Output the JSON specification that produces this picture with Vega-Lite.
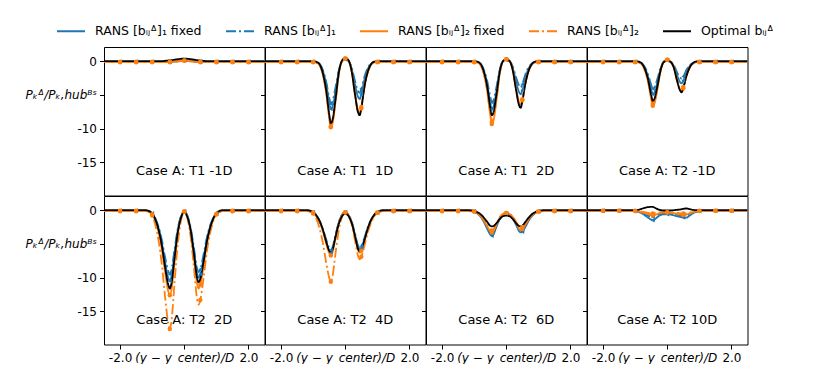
{
"$schema":"https://vega.github.io/schema/vega-lite/v6.json",
"autosize":{"type":"pad"},
"padding":{"left":24,"top":16,"right":0,"bottom":0},
"background":"white",
"data":{"values":[
{"p":1,"x":-2.5,"a":-0.1,"b":-0.1,"c":-0.1,"d":-0.15,"e":0},
{"p":1,"x":-2,"a":-0.1,"b":-0.1,"c":-0.1,"d":-0.15,"e":0},
{"p":1,"x":-1.5,"a":-0.1,"b":-0.1,"c":-0.1,"d":-0.15,"e":0},
{"p":1,"x":-1.2,"a":-0.1,"b":-0.1,"c":-0.1,"d":-0.15,"e":0},
{"p":1,"x":-1,"a":-0.1,"b":-0.1,"c":-0.1,"d":-0.15,"e":0},
{"p":1,"x":-0.9,"a":-0.1,"b":-0.1,"c":-0.1,"d":-0.15,"e":0},
{"p":1,"x":-0.8,"a":-0.1,"b":-0.1,"c":-0.1,"d":-0.15,"e":0},
{"p":1,"x":-0.7,"a":-0.1,"b":-0.1,"c":-0.1,"d":-0.15,"e":0},
{"p":1,"x":-0.6,"a":-0.1,"b":-0.1,"c":-0.1,"d":-0.15,"e":0.05},
{"p":1,"x":-0.5,"a":-0.1,"b":-0.1,"c":-0.1,"d":-0.15,"e":0.1},
{"p":1,"x":-0.45,"a":-0.1,"b":-0.1,"c":-0.1,"d":-0.15,"e":0.12},
{"p":1,"x":-0.4,"a":-0.08,"b":-0.08,"c":-0.08,"d":-0.13,"e":0.15},
{"p":1,"x":-0.3,"a":-0.05,"b":-0.05,"c":-0.05,"d":-0.1,"e":0.22},
{"p":1,"x":-0.2,"a":0,"b":0,"c":0,"d":-0.05,"e":0.3},
{"p":1,"x":-0.1,"a":0.05,"b":0.05,"c":0.05,"d":0,"e":0.35},
{"p":1,"x":0,"a":0.1,"b":0.1,"c":0.1,"d":0.05,"e":0.38},
{"p":1,"x":0.1,"a":0.05,"b":0.05,"c":0.05,"d":0,"e":0.35},
{"p":1,"x":0.2,"a":0,"b":0,"c":0,"d":-0.05,"e":0.3},
{"p":1,"x":0.3,"a":-0.05,"b":-0.05,"c":-0.05,"d":-0.1,"e":0.22},
{"p":1,"x":0.4,"a":-0.08,"b":-0.08,"c":-0.08,"d":-0.13,"e":0.15},
{"p":1,"x":0.45,"a":-0.1,"b":-0.1,"c":-0.1,"d":-0.15,"e":0.12},
{"p":1,"x":0.5,"a":-0.1,"b":-0.1,"c":-0.1,"d":-0.15,"e":0.1},
{"p":1,"x":0.6,"a":-0.1,"b":-0.1,"c":-0.1,"d":-0.15,"e":0.05},
{"p":1,"x":0.7,"a":-0.1,"b":-0.1,"c":-0.1,"d":-0.15,"e":0},
{"p":1,"x":0.8,"a":-0.1,"b":-0.1,"c":-0.1,"d":-0.15,"e":0},
{"p":1,"x":0.9,"a":-0.1,"b":-0.1,"c":-0.1,"d":-0.15,"e":0},
{"p":1,"x":1,"a":-0.1,"b":-0.1,"c":-0.1,"d":-0.15,"e":0},
{"p":1,"x":1.2,"a":-0.1,"b":-0.1,"c":-0.1,"d":-0.15,"e":0},
{"p":1,"x":1.5,"a":-0.1,"b":-0.1,"c":-0.1,"d":-0.15,"e":0},
{"p":1,"x":2,"a":-0.1,"b":-0.1,"c":-0.1,"d":-0.15,"e":0},
{"p":1,"x":2.5,"a":-0.1,"b":-0.1,"c":-0.1,"d":-0.15,"e":0},
{"p":2,"x":-2.5,"a":-0.1,"b":-0.1,"c":-0.1,"d":-0.15,"e":0},
{"p":2,"x":-2,"a":-0.1,"b":-0.1,"c":-0.1,"d":-0.15,"e":0},
{"p":2,"x":-1.5,"a":-0.1,"b":-0.1,"c":-0.1,"d":-0.15,"e":0},
{"p":2,"x":-1.2,"a":-0.1,"b":-0.1,"c":-0.1,"d":-0.15,"e":0},
{"p":2,"x":-1,"a":-0.1,"b":-0.1,"c":-0.1,"d":-0.15,"e":0},
{"p":2,"x":-0.9,"a":-0.17,"b":-0.16,"c":-0.2,"d":-0.2,"e":-0.1},
{"p":2,"x":-0.8,"a":-0.45,"b":-0.41,"c":-0.59,"d":-0.58,"e":-0.46},
{"p":2,"x":-0.7,"a":-1.43,"b":-1.28,"c":-1.94,"d":-1.9,"e":-1.75},
{"p":2,"x":-0.6,"a":-3.25,"b":-2.89,"c":-4.47,"d":-4.4,"e":-4.14},
{"p":2,"x":-0.5,"a":-6.05,"b":-5.37,"c":-8.35,"d":-8.2,"e":-7.82},
{"p":2,"x":-0.45,"a":-7.1,"b":-6.3,"c":-9.8,"d":-9.6,"e":-9.2},
{"p":2,"x":-0.4,"a":-6.75,"b":-5.99,"c":-9.3,"d":-9.1,"e":-8.74},
{"p":2,"x":-0.3,"a":-4.3,"b":-3.82,"c":-5.9,"d":-5.8,"e":-5.52},
{"p":2,"x":-0.2,"a":-1.5,"b":-1.34,"c":-1.9,"d":-1.9,"e":-1.7},
{"p":2,"x":-0.1,"a":0,"b":0,"c":0,"d":0,"e":0.1},
{"p":2,"x":0,"a":0.3,"b":0.3,"c":0.4,"d":0.4,"e":0.5},
{"p":2,"x":0.1,"a":0.05,"b":0.05,"c":0.1,"d":0.1,"e":0.15},
{"p":2,"x":0.2,"a":-1.1,"b":-0.92,"c":-1.5,"d":-1.5,"e":-1.5},
{"p":2,"x":0.3,"a":-3.4,"b":-2.86,"c":-4.7,"d":-4.8,"e":-4.8},
{"p":2,"x":0.4,"a":-5.3,"b":-4.47,"c":-7.4,"d":-7.6,"e":-7.6},
{"p":2,"x":0.45,"a":-5.6,"b":-4.7,"c":-7.8,"d":-8.0,"e":-8.0},
{"p":2,"x":0.5,"a":-4.9,"b":-4.1,"c":-6.8,"d":-7.0,"e":-6.96},
{"p":2,"x":0.6,"a":-2.7,"b":-2.26,"c":-3.7,"d":-3.8,"e":-3.76},
{"p":2,"x":0.7,"a":-1.2,"b":-1.02,"c":-1.6,"d":-1.7,"e":-1.6},
{"p":2,"x":0.8,"a":-0.43,"b":-0.38,"c":-0.56,"d":-0.57,"e":-0.48},
{"p":2,"x":0.9,"a":-0.16,"b":-0.15,"c":-0.18,"d":-0.18,"e":-0.08},
{"p":2,"x":1,"a":-0.1,"b":-0.1,"c":-0.1,"d":-0.15,"e":0},
{"p":2,"x":1.2,"a":-0.1,"b":-0.1,"c":-0.1,"d":-0.15,"e":0},
{"p":2,"x":1.5,"a":-0.1,"b":-0.1,"c":-0.1,"d":-0.15,"e":0},
{"p":2,"x":2,"a":-0.1,"b":-0.1,"c":-0.1,"d":-0.15,"e":0},
{"p":2,"x":2.5,"a":-0.1,"b":-0.1,"c":-0.1,"d":-0.15,"e":0},
{"p":3,"x":-2.5,"a":-0.1,"b":-0.1,"c":-0.1,"d":-0.15,"e":0},
{"p":3,"x":-2,"a":-0.1,"b":-0.1,"c":-0.1,"d":-0.15,"e":0},
{"p":3,"x":-1.5,"a":-0.1,"b":-0.1,"c":-0.1,"d":-0.15,"e":0},
{"p":3,"x":-1.2,"a":-0.1,"b":-0.1,"c":-0.1,"d":-0.15,"e":0},
{"p":3,"x":-1,"a":-0.1,"b":-0.1,"c":-0.1,"d":-0.15,"e":0},
{"p":3,"x":-0.9,"a":-0.17,"b":-0.16,"c":-0.19,"d":-0.19,"e":-0.08},
{"p":3,"x":-0.8,"a":-0.45,"b":-0.4,"c":-0.56,"d":-0.55,"e":-0.4},
{"p":3,"x":-0.7,"a":-1.43,"b":-1.24,"c":-1.85,"d":-1.8,"e":-1.52},
{"p":3,"x":-0.6,"a":-3.25,"b":-2.8,"c":-4.24,"d":-4.1,"e":-3.6},
{"p":3,"x":-0.5,"a":-6.05,"b":-5.2,"c":-7.9,"d":-7.66,"e":-6.8},
{"p":3,"x":-0.45,"a":-7.1,"b":-6.1,"c":-9.3,"d":-9.0,"e":-8.0},
{"p":3,"x":-0.4,"a":-6.75,"b":-5.8,"c":-8.84,"d":-8.55,"e":-7.6},
{"p":3,"x":-0.3,"a":-4.3,"b":-3.7,"c":-5.6,"d":-5.4,"e":-4.8},
{"p":3,"x":-0.2,"a":-1.4,"b":-1.2,"c":-1.8,"d":-1.75,"e":-1.5},
{"p":3,"x":-0.1,"a":0,"b":0,"c":0,"d":0,"e":0},
{"p":3,"x":0,"a":0.2,"b":0.2,"c":0.3,"d":0.3,"e":0.25},
{"p":3,"x":0.1,"a":0,"b":0,"c":0.05,"d":0.05,"e":0.05},
{"p":3,"x":0.2,"a":-0.95,"b":-0.75,"c":-1.2,"d":-1.25,"e":-1.3},
{"p":3,"x":0.3,"a":-2.9,"b":-2.3,"c":-3.9,"d":-4.0,"e":-4.1},
{"p":3,"x":0.4,"a":-4.6,"b":-3.6,"c":-6.1,"d":-6.3,"e":-6.55},
{"p":3,"x":0.45,"a":-4.9,"b":-3.9,"c":-6.5,"d":-6.7,"e":-6.9},
{"p":3,"x":0.5,"a":-4.3,"b":-3.4,"c":-5.65,"d":-5.8,"e":-6.0},
{"p":3,"x":0.6,"a":-2.35,"b":-1.9,"c":-3.1,"d":-3.2,"e":-3.24},
{"p":3,"x":0.7,"a":-1.06,"b":-0.86,"c":-1.38,"d":-1.42,"e":-1.38},
{"p":3,"x":0.8,"a":-0.39,"b":-0.33,"c":-0.48,"d":-0.5,"e":-0.41},
{"p":3,"x":0.9,"a":-0.15,"b":-0.14,"c":-0.16,"d":-0.17,"e":-0.07},
{"p":3,"x":1,"a":-0.1,"b":-0.1,"c":-0.1,"d":-0.15,"e":0},
{"p":3,"x":1.2,"a":-0.1,"b":-0.1,"c":-0.1,"d":-0.15,"e":0},
{"p":3,"x":1.5,"a":-0.1,"b":-0.1,"c":-0.1,"d":-0.15,"e":0},
{"p":3,"x":2,"a":-0.1,"b":-0.1,"c":-0.1,"d":-0.15,"e":0},
{"p":3,"x":2.5,"a":-0.1,"b":-0.1,"c":-0.1,"d":-0.15,"e":0},
{"p":4,"x":-2.5,"a":-0.1,"b":-0.1,"c":-0.1,"d":-0.15,"e":0},
{"p":4,"x":-2,"a":-0.1,"b":-0.1,"c":-0.1,"d":-0.15,"e":0},
{"p":4,"x":-1.5,"a":-0.1,"b":-0.1,"c":-0.1,"d":-0.15,"e":0},
{"p":4,"x":-1.2,"a":-0.1,"b":-0.1,"c":-0.1,"d":-0.15,"e":0},
{"p":4,"x":-1,"a":-0.1,"b":-0.1,"c":-0.1,"d":-0.15,"e":0},
{"p":4,"x":-0.9,"a":-0.15,"b":-0.14,"c":-0.17,"d":-0.16,"e":-0.06},
{"p":4,"x":-0.8,"a":-0.34,"b":-0.3,"c":-0.43,"d":-0.41,"e":-0.3},
{"p":4,"x":-0.7,"a":-1.0,"b":-0.86,"c":-1.33,"d":-1.28,"e":-1.12},
{"p":4,"x":-0.6,"a":-2.26,"b":-1.9,"c":-3.0,"d":-2.9,"e":-2.66},
{"p":4,"x":-0.5,"a":-4.18,"b":-3.5,"c":-5.6,"d":-5.37,"e":-5.0},
{"p":4,"x":-0.45,"a":-4.9,"b":-4.1,"c":-6.6,"d":-6.3,"e":-5.9},
{"p":4,"x":-0.4,"a":-4.66,"b":-3.9,"c":-6.28,"d":-6.0,"e":-5.6},
{"p":4,"x":-0.3,"a":-2.98,"b":-2.5,"c":-4.0,"d":-3.8,"e":-3.54},
{"p":4,"x":-0.2,"a":-1.0,"b":-0.9,"c":-1.3,"d":-1.25,"e":-1.2},
{"p":4,"x":-0.1,"a":-0.05,"b":-0.05,"c":-0.05,"d":-0.05,"e":-0.1},
{"p":4,"x":0,"a":0.15,"b":0.15,"c":0.2,"d":0.2,"e":0.05},
{"p":4,"x":0.1,"a":-0.05,"b":-0.05,"c":-0.05,"d":-0.05,"e":-0.1},
{"p":4,"x":0.2,"a":-0.7,"b":-0.55,"c":-0.86,"d":-0.9,"e":-0.9},
{"p":4,"x":0.3,"a":-2.0,"b":-1.6,"c":-2.7,"d":-2.8,"e":-2.76},
{"p":4,"x":0.4,"a":-3.1,"b":-2.45,"c":-4.18,"d":-4.37,"e":-4.37},
{"p":4,"x":0.45,"a":-3.3,"b":-2.6,"c":-4.4,"d":-4.6,"e":-4.6},
{"p":4,"x":0.5,"a":-2.88,"b":-2.28,"c":-3.84,"d":-4.0,"e":-4.0},
{"p":4,"x":0.6,"a":-1.6,"b":-1.28,"c":-2.1,"d":-2.2,"e":-2.16},
{"p":4,"x":0.7,"a":-0.74,"b":-0.6,"c":-0.96,"d":-1.0,"e":-0.92},
{"p":4,"x":0.8,"a":-0.29,"b":-0.25,"c":-0.36,"d":-0.37,"e":-0.28},
{"p":4,"x":0.9,"a":-0.13,"b":-0.12,"c":-0.14,"d":-0.15,"e":-0.05},
{"p":4,"x":1,"a":-0.1,"b":-0.1,"c":-0.1,"d":-0.15,"e":0},
{"p":4,"x":1.2,"a":-0.1,"b":-0.1,"c":-0.1,"d":-0.15,"e":0},
{"p":4,"x":1.5,"a":-0.1,"b":-0.1,"c":-0.1,"d":-0.15,"e":0},
{"p":4,"x":2,"a":-0.1,"b":-0.1,"c":-0.1,"d":-0.15,"e":0},
{"p":4,"x":2.5,"a":-0.1,"b":-0.1,"c":-0.1,"d":-0.15,"e":0},
{"p":5,"x":-2.5,"a":-0.1,"b":-0.1,"c":-0.1,"d":-0.15,"e":0},
{"p":5,"x":-2,"a":-0.1,"b":-0.1,"c":-0.1,"d":-0.15,"e":0},
{"p":5,"x":-1.5,"a":-0.1,"b":-0.1,"c":-0.1,"d":-0.15,"e":0},
{"p":5,"x":-1.2,"a":-0.1,"b":-0.1,"c":-0.1,"d":-0.15,"e":0},
{"p":5,"x":-1,"a":-0.5,"b":-0.48,"c":-0.6,"d":-0.8,"e":-0.46},
{"p":5,"x":-0.9,"a":-1.3,"b":-1.2,"c":-1.6,"d":-2.2,"e":-1.4},
{"p":5,"x":-0.8,"a":-2.7,"b":-2.45,"c":-3.25,"d":-4.5,"e":-2.9},
{"p":5,"x":-0.7,"a":-4.8,"b":-4.35,"c":-5.75,"d":-8.0,"e":-5.2},
{"p":5,"x":-0.6,"a":-7.6,"b":-6.9,"c":-9.1,"d":-12.7,"e":-8.35},
{"p":5,"x":-0.5,"a":-10.0,"b":-9.0,"c":-12.0,"d":-16.7,"e":-11.0},
{"p":5,"x":-0.45,"a":-10.5,"b":-9.5,"c":-12.6,"d":-17.6,"e":-11.6},
{"p":5,"x":-0.4,"a":-9.9,"b":-8.9,"c":-11.85,"d":-16.5,"e":-10.9},
{"p":5,"x":-0.3,"a":-6.3,"b":-5.7,"c":-7.6,"d":-10.6,"e":-7.0},
{"p":5,"x":-0.2,"a":-2.95,"b":-2.7,"c":-3.55,"d":-4.9,"e":-3.25},
{"p":5,"x":-0.1,"a":-0.95,"b":-0.85,"c":-1.1,"d":-1.5,"e":-1.1},
{"p":5,"x":0,"a":-0.2,"b":-0.2,"c":-0.2,"d":-0.2,"e":-0.3},
{"p":5,"x":0.1,"a":-0.9,"b":-0.85,"c":-1.0,"d":-1.2,"e":-1.05},
{"p":5,"x":0.2,"a":-2.85,"b":-2.6,"c":-3.3,"d":-4.0,"e":-3.0},
{"p":5,"x":0.3,"a":-6.0,"b":-5.5,"c":-7.0,"d":-8.4,"e":-6.4},
{"p":5,"x":0.4,"a":-9.4,"b":-8.65,"c":-10.9,"d":-13.2,"e":-10.05},
{"p":5,"x":0.45,"a":-10.0,"b":-9.2,"c":-11.6,"d":-14.0,"e":-10.7},
{"p":5,"x":0.5,"a":-9.5,"b":-8.75,"c":-11.0,"d":-13.3,"e":-10.2},
{"p":5,"x":0.6,"a":-7.2,"b":-6.6,"c":-8.35,"d":-10.1,"e":-7.7},
{"p":5,"x":0.7,"a":-4.5,"b":-4.15,"c":-5.25,"d":-6.3,"e":-4.8},
{"p":5,"x":0.8,"a":-2.55,"b":-2.35,"c":-2.95,"d":-3.5,"e":-2.7},
{"p":5,"x":0.9,"a":-1.3,"b":-1.2,"c":-1.45,"d":-1.7,"e":-1.3},
{"p":5,"x":1,"a":-0.5,"b":-0.47,"c":-0.55,"d":-0.65,"e":-0.43},
{"p":5,"x":1.2,"a":-0.1,"b":-0.1,"c":-0.1,"d":-0.15,"e":0},
{"p":5,"x":1.5,"a":-0.1,"b":-0.1,"c":-0.1,"d":-0.15,"e":0},
{"p":5,"x":2,"a":-0.1,"b":-0.1,"c":-0.1,"d":-0.15,"e":0},
{"p":5,"x":2.5,"a":-0.1,"b":-0.1,"c":-0.1,"d":-0.15,"e":0},
{"p":6,"x":-2.5,"a":-0.1,"b":-0.1,"c":-0.1,"d":-0.15,"e":0},
{"p":6,"x":-2,"a":-0.1,"b":-0.1,"c":-0.1,"d":-0.15,"e":0},
{"p":6,"x":-1.5,"a":-0.1,"b":-0.1,"c":-0.1,"d":-0.15,"e":0},
{"p":6,"x":-1.2,"a":-0.1,"b":-0.1,"c":-0.1,"d":-0.15,"e":0},
{"p":6,"x":-1,"a":-0.35,"b":-0.33,"c":-0.36,"d":-0.5,"e":-0.25},
{"p":6,"x":-0.9,"a":-0.85,"b":-0.8,"c":-0.9,"d":-1.3,"e":-0.76},
{"p":6,"x":-0.8,"a":-1.65,"b":-1.55,"c":-1.75,"d":-2.7,"e":-1.6},
{"p":6,"x":-0.7,"a":-2.9,"b":-2.7,"c":-3.05,"d":-4.8,"e":-2.85},
{"p":6,"x":-0.6,"a":-4.55,"b":-4.25,"c":-4.85,"d":-7.6,"e":-4.55},
{"p":6,"x":-0.5,"a":-6.0,"b":-5.6,"c":-6.35,"d":-10.0,"e":-6.0},
{"p":6,"x":-0.45,"a":-6.3,"b":-5.9,"c":-6.7,"d":-10.6,"e":-6.3},
{"p":6,"x":-0.4,"a":-5.9,"b":-5.55,"c":-6.3,"d":-9.9,"e":-5.9},
{"p":6,"x":-0.3,"a":-3.8,"b":-3.6,"c":-4.05,"d":-6.3,"e":-3.9},
{"p":6,"x":-0.2,"a":-1.85,"b":-1.75,"c":-1.95,"d":-2.95,"e":-2.0},
{"p":6,"x":-0.1,"a":-0.7,"b":-0.65,"c":-0.75,"d":-0.95,"e":-0.9},
{"p":6,"x":0,"a":-0.3,"b":-0.3,"c":-0.3,"d":-0.3,"e":-0.5},
{"p":6,"x":0.1,"a":-0.7,"b":-0.65,"c":-0.75,"d":-0.8,"e":-0.85},
{"p":6,"x":0.2,"a":-1.75,"b":-1.65,"c":-1.85,"d":-2.1,"e":-1.9},
{"p":6,"x":0.3,"a":-3.6,"b":-3.4,"c":-3.8,"d":-4.4,"e":-3.75},
{"p":6,"x":0.4,"a":-5.55,"b":-5.25,"c":-5.9,"d":-6.8,"e":-5.75},
{"p":6,"x":0.45,"a":-5.9,"b":-5.6,"c":-6.3,"d":-7.3,"e":-6.1},
{"p":6,"x":0.5,"a":-5.6,"b":-5.3,"c":-6.0,"d":-6.9,"e":-5.8},
{"p":6,"x":0.6,"a":-4.25,"b":-4.05,"c":-4.55,"d":-5.25,"e":-4.4},
{"p":6,"x":0.7,"a":-2.7,"b":-2.55,"c":-2.9,"d":-3.3,"e":-2.75},
{"p":6,"x":0.8,"a":-1.55,"b":-1.45,"c":-1.65,"d":-1.9,"e":-1.5},
{"p":6,"x":0.9,"a":-0.8,"b":-0.75,"c":-0.85,"d":-0.95,"e":-0.7},
{"p":6,"x":1,"a":-0.33,"b":-0.32,"c":-0.35,"d":-0.38,"e":-0.25},
{"p":6,"x":1.2,"a":-0.1,"b":-0.1,"c":-0.1,"d":-0.15,"e":0},
{"p":6,"x":1.5,"a":-0.1,"b":-0.1,"c":-0.1,"d":-0.15,"e":0},
{"p":6,"x":2,"a":-0.1,"b":-0.1,"c":-0.1,"d":-0.15,"e":0},
{"p":6,"x":2.5,"a":-0.1,"b":-0.1,"c":-0.1,"d":-0.15,"e":0},
{"p":7,"x":-2.5,"a":-0.1,"b":-0.1,"c":-0.1,"d":-0.15,"e":0},
{"p":7,"x":-2,"a":-0.1,"b":-0.1,"c":-0.1,"d":-0.15,"e":0},
{"p":7,"x":-1.5,"a":-0.1,"b":-0.1,"c":-0.1,"d":-0.15,"e":0},
{"p":7,"x":-1.2,"a":-0.1,"b":-0.1,"c":-0.1,"d":-0.15,"e":0},
{"p":7,"x":-1,"a":-0.2,"b":-0.2,"c":-0.2,"d":-0.2,"e":-0.1},
{"p":7,"x":-0.9,"a":-0.5,"b":-0.45,"c":-0.45,"d":-0.4,"e":-0.3},
{"p":7,"x":-0.8,"a":-0.95,"b":-0.9,"c":-0.85,"d":-0.8,"e":-0.6},
{"p":7,"x":-0.7,"a":-1.7,"b":-1.6,"c":-1.5,"d":-1.4,"e":-1.1},
{"p":7,"x":-0.6,"a":-2.7,"b":-2.5,"c":-2.35,"d":-2.15,"e":-1.7},
{"p":7,"x":-0.5,"a":-3.6,"b":-3.3,"c":-3.1,"d":-2.85,"e":-2.3},
{"p":7,"x":-0.45,"a":-3.8,"b":-3.5,"c":-3.3,"d":-3.0,"e":-2.4},
{"p":7,"x":-0.4,"a":-3.6,"b":-3.3,"c":-3.1,"d":-2.85,"e":-2.35},
{"p":7,"x":-0.3,"a":-2.4,"b":-2.2,"c":-2.05,"d":-1.9,"e":-1.9},
{"p":7,"x":-0.2,"a":-1.3,"b":-1.2,"c":-1.1,"d":-1.0,"e":-1.3},
{"p":7,"x":-0.1,"a":-0.7,"b":-0.65,"c":-0.55,"d":-0.55,"e":-0.9},
{"p":7,"x":0,"a":-0.5,"b":-0.5,"c":-0.4,"d":-0.4,"e":-0.8},
{"p":7,"x":0.1,"a":-0.7,"b":-0.65,"c":-0.55,"d":-0.55,"e":-0.9},
{"p":7,"x":0.2,"a":-1.2,"b":-1.1,"c":-1.0,"d":-0.95,"e":-1.3},
{"p":7,"x":0.3,"a":-2.1,"b":-1.9,"c":-1.8,"d":-1.65,"e":-1.9},
{"p":7,"x":0.4,"a":-3.1,"b":-2.85,"c":-2.75,"d":-2.45,"e":-2.35},
{"p":7,"x":0.45,"a":-3.3,"b":-3.0,"c":-2.9,"d":-2.6,"e":-2.4},
{"p":7,"x":0.5,"a":-3.2,"b":-2.9,"c":-2.8,"d":-2.5,"e":-2.3},
{"p":7,"x":0.6,"a":-2.45,"b":-2.2,"c":-2.1,"d":-1.9,"e":-1.7},
{"p":7,"x":0.7,"a":-1.55,"b":-1.4,"c":-1.35,"d":-1.2,"e":-1.1},
{"p":7,"x":0.8,"a":-0.9,"b":-0.8,"c":-0.8,"d":-0.7,"e":-0.6},
{"p":7,"x":0.9,"a":-0.45,"b":-0.42,"c":-0.4,"d":-0.38,"e":-0.3},
{"p":7,"x":1,"a":-0.2,"b":-0.2,"c":-0.2,"d":-0.2,"e":-0.1},
{"p":7,"x":1.2,"a":-0.1,"b":-0.1,"c":-0.1,"d":-0.15,"e":0},
{"p":7,"x":1.5,"a":-0.1,"b":-0.1,"c":-0.1,"d":-0.15,"e":0},
{"p":7,"x":2,"a":-0.1,"b":-0.1,"c":-0.1,"d":-0.15,"e":0},
{"p":7,"x":2.5,"a":-0.1,"b":-0.1,"c":-0.1,"d":-0.15,"e":0},
{"p":8,"x":-2.5,"a":-0.1,"b":-0.1,"c":-0.1,"d":-0.1,"e":0},
{"p":8,"x":-2,"a":-0.1,"b":-0.1,"c":-0.1,"d":-0.1,"e":0},
{"p":8,"x":-1.5,"a":-0.1,"b":-0.1,"c":-0.1,"d":-0.1,"e":0},
{"p":8,"x":-1.2,"a":-0.1,"b":-0.1,"c":-0.1,"d":-0.1,"e":0},
{"p":8,"x":-1,"a":-0.15,"b":-0.12,"c":-0.12,"d":-0.1,"e":0},
{"p":8,"x":-0.9,"a":-0.25,"b":-0.2,"c":-0.2,"d":-0.15,"e":0.05},
{"p":8,"x":-0.8,"a":-0.45,"b":-0.35,"c":-0.3,"d":-0.2,"e":0.2},
{"p":8,"x":-0.7,"a":-0.75,"b":-0.55,"c":-0.45,"d":-0.3,"e":0.35},
{"p":8,"x":-0.6,"a":-1.1,"b":-0.8,"c":-0.6,"d":-0.4,"e":0.45},
{"p":8,"x":-0.5,"a":-1.4,"b":-0.95,"c":-0.75,"d":-0.5,"e":0.5},
{"p":8,"x":-0.45,"a":-1.5,"b":-1.0,"c":-0.8,"d":-0.5,"e":0.5},
{"p":8,"x":-0.4,"a":-1.4,"b":-0.95,"c":-0.75,"d":-0.45,"e":0.4},
{"p":8,"x":-0.3,"a":-1.0,"b":-0.7,"c":-0.55,"d":-0.35,"e":0.15},
{"p":8,"x":-0.2,"a":-0.7,"b":-0.5,"c":-0.4,"d":-0.3,"e":0},
{"p":8,"x":-0.1,"a":-0.6,"b":-0.45,"c":-0.35,"d":-0.3,"e":-0.05},
{"p":8,"x":0,"a":-0.6,"b":-0.45,"c":-0.35,"d":-0.3,"e":-0.05},
{"p":8,"x":0.1,"a":-0.65,"b":-0.5,"c":-0.4,"d":-0.3,"e":-0.05},
{"p":8,"x":0.2,"a":-0.75,"b":-0.55,"c":-0.45,"d":-0.35,"e":0},
{"p":8,"x":0.3,"a":-0.9,"b":-0.65,"c":-0.55,"d":-0.4,"e":0.05},
{"p":8,"x":0.4,"a":-1.0,"b":-0.75,"c":-0.65,"d":-0.45,"e":0.1},
{"p":8,"x":0.45,"a":-1.05,"b":-0.8,"c":-0.7,"d":-0.5,"e":0.15},
{"p":8,"x":0.5,"a":-1.1,"b":-0.8,"c":-0.7,"d":-0.5,"e":0.2},
{"p":8,"x":0.6,"a":-1.1,"b":-0.8,"c":-0.65,"d":-0.45,"e":0.25},
{"p":8,"x":0.7,"a":-0.8,"b":-0.6,"c":-0.45,"d":-0.35,"e":0.15},
{"p":8,"x":0.8,"a":-0.45,"b":-0.35,"c":-0.3,"d":-0.2,"e":0.05},
{"p":8,"x":0.9,"a":-0.25,"b":-0.2,"c":-0.18,"d":-0.15,"e":0},
{"p":8,"x":1,"a":-0.15,"b":-0.12,"c":-0.12,"d":-0.1,"e":0},
{"p":8,"x":1.2,"a":-0.1,"b":-0.1,"c":-0.1,"d":-0.1,"e":0},
{"p":8,"x":1.5,"a":-0.1,"b":-0.1,"c":-0.1,"d":-0.1,"e":0},
{"p":8,"x":2,"a":-0.1,"b":-0.1,"c":-0.1,"d":-0.1,"e":0},
{"p":8,"x":2.5,"a":-0.1,"b":-0.1,"c":-0.1,"d":-0.1,"e":0}
]},
"transform":[{"fold":["a","b","c","d","e"],"as":["s","y"]}],
"columns":4,
"spacing":0,
"bounds":"flush",
"concat":[
{"width":160.5,"height":148.5,"layer":[
{"transform":[{"filter":"datum.p == 1"}],"mark":{"type":"line","strokeWidth":1.8,"interpolate":"monotone","clip":true},
"encoding":{"x":{"field":"x","type":"quantitative","scale":{"domain":[-2.5,2.5],"nice":false,"zero":false},"axis":null},
"y":{"field":"y","type":"quantitative","scale":{"domain":[-19.9,2.1],"nice":false,"zero":false},"axis":{"values":[0,-5,-10,-15],"title":null,"labelOverlap":false,"labelExpr":"datum.value == -5 ? 'Pₖᐞ/Pₖ,hubᴮˢ' : replace(datum.label, '−', '-')","labelFontStyle":{"condition":{"test":"datum.value == -5","value":"italic"},"value":"normal"}}},
"color":{"field":"s","type":"nominal","scale":{"domain":["a","b","c","d","e"],"range":["#1f77b4","#1f77b4","#ff7f0e","#ff7f0e","#000000"]},"legend":{"title":null,"labelExpr":"datum.label == 'a' ? 'RANS [bᵢⱼᐞ]₁ fixed' : datum.label == 'b' ? 'RANS [bᵢⱼᐞ]₁' : datum.label == 'c' ? 'RANS [bᵢⱼᐞ]₂ fixed' : datum.label == 'd' ? 'RANS [bᵢⱼᐞ]₂' : 'Optimal bᵢⱼᐞ'"}},
"strokeDash":{"field":"s","type":"nominal","scale":{"domain":["a","b","c","d","e"],"range":[[1,0],[10,3,2,3],[1,0],[10,3,2,3],[1,0]]},"legend":{"title":null,"labelExpr":"datum.label == 'a' ? 'RANS [bᵢⱼᐞ]₁ fixed' : datum.label == 'b' ? 'RANS [bᵢⱼᐞ]₁' : datum.label == 'c' ? 'RANS [bᵢⱼᐞ]₂ fixed' : datum.label == 'd' ? 'RANS [bᵢⱼᐞ]₂' : 'Optimal bᵢⱼᐞ'"}}}},
{"transform":[{"filter":"datum.p == 1 && datum.s != 'e' && indexof([-2,-1.5,-1,-0.45,0,0.5,1,1.5,2], datum.x) >= 0"}],"mark":{"type":"point","filled":true,"opacity":1,"size":20,"clip":true},
"encoding":{"x":{"field":"x","type":"quantitative"},"y":{"field":"y","type":"quantitative"},"color":{"field":"s","type":"nominal","legend":null},"shape":{"field":"s","type":"nominal","scale":{"domain":["a","b","c","d"],"range":["triangle-left","triangle-left","circle","circle"]},"legend":null}}},
{"data":{"values":[{"t":"Case A: T1 -1D"}]},"mark":{"type":"text","fontSize":13,"color":"black"},"encoding":{"x":{"datum":0},"y":{"datum":-16.3},"text":{"field":"t"}}}
]},
{"width":160.5,"height":148.5,"layer":[
{"transform":[{"filter":"datum.p == 2"}],"mark":{"type":"line","strokeWidth":1.8,"interpolate":"monotone","clip":true},
"encoding":{"x":{"field":"x","type":"quantitative","scale":{"domain":[-2.5,2.5],"nice":false,"zero":false},"axis":null},
"y":{"field":"y","type":"quantitative","scale":{"domain":[-19.9,2.1],"nice":false,"zero":false},"axis":{"values":[0,-5,-10,-15],"title":null,"labels":false}},
"color":{"field":"s","type":"nominal"},"strokeDash":{"field":"s","type":"nominal"}}},
{"transform":[{"filter":"datum.p == 2 && datum.s != 'e' && indexof([-2,-1.5,-1,-0.45,0,0.5,1,1.5,2], datum.x) >= 0"}],"mark":{"type":"point","filled":true,"opacity":1,"size":20,"clip":true},
"encoding":{"x":{"field":"x","type":"quantitative"},"y":{"field":"y","type":"quantitative"},"color":{"field":"s","type":"nominal","legend":null},"shape":{"field":"s","type":"nominal","legend":null}}},
{"data":{"values":[{"t":"Case A: T1 \u00a01D"}]},"mark":{"type":"text","fontSize":13,"color":"black"},"encoding":{"x":{"datum":0},"y":{"datum":-16.3},"text":{"field":"t"}}}
]},
{"width":160.5,"height":148.5,"layer":[
{"transform":[{"filter":"datum.p == 3"}],"mark":{"type":"line","strokeWidth":1.8,"interpolate":"monotone","clip":true},
"encoding":{"x":{"field":"x","type":"quantitative","scale":{"domain":[-2.5,2.5],"nice":false,"zero":false},"axis":null},
"y":{"field":"y","type":"quantitative","scale":{"domain":[-19.9,2.1],"nice":false,"zero":false},"axis":{"values":[0,-5,-10,-15],"title":null,"labels":false}},
"color":{"field":"s","type":"nominal"},"strokeDash":{"field":"s","type":"nominal"}}},
{"transform":[{"filter":"datum.p == 3 && datum.s != 'e' && indexof([-2,-1.5,-1,-0.45,0,0.5,1,1.5,2], datum.x) >= 0"}],"mark":{"type":"point","filled":true,"opacity":1,"size":20,"clip":true},
"encoding":{"x":{"field":"x","type":"quantitative"},"y":{"field":"y","type":"quantitative"},"color":{"field":"s","type":"nominal","legend":null},"shape":{"field":"s","type":"nominal","legend":null}}},
{"data":{"values":[{"t":"Case A: T1 \u00a02D"}]},"mark":{"type":"text","fontSize":13,"color":"black"},"encoding":{"x":{"datum":0},"y":{"datum":-16.3},"text":{"field":"t"}}}
]},
{"width":160.5,"height":148.5,"layer":[
{"transform":[{"filter":"datum.p == 4"}],"mark":{"type":"line","strokeWidth":1.8,"interpolate":"monotone","clip":true},
"encoding":{"x":{"field":"x","type":"quantitative","scale":{"domain":[-2.5,2.5],"nice":false,"zero":false},"axis":null},
"y":{"field":"y","type":"quantitative","scale":{"domain":[-19.9,2.1],"nice":false,"zero":false},"axis":{"values":[0,-5,-10,-15],"title":null,"labels":false}},
"color":{"field":"s","type":"nominal"},"strokeDash":{"field":"s","type":"nominal"}}},
{"transform":[{"filter":"datum.p == 4 && datum.s != 'e' && indexof([-2,-1.5,-1,-0.45,0,0.5,1,1.5,2], datum.x) >= 0"}],"mark":{"type":"point","filled":true,"opacity":1,"size":20,"clip":true},
"encoding":{"x":{"field":"x","type":"quantitative"},"y":{"field":"y","type":"quantitative"},"color":{"field":"s","type":"nominal","legend":null},"shape":{"field":"s","type":"nominal","legend":null}}},
{"data":{"values":[{"t":"Case A: T2 -1D"}]},"mark":{"type":"text","fontSize":13,"color":"black"},"encoding":{"x":{"datum":0},"y":{"datum":-16.3},"text":{"field":"t"}}}
]},
{"width":160.5,"height":148.5,"layer":[
{"transform":[{"filter":"datum.p == 5"}],"mark":{"type":"line","strokeWidth":1.8,"interpolate":"monotone","clip":true},
"encoding":{"x":{"field":"x","type":"quantitative","scale":{"domain":[-2.5,2.5],"nice":false,"zero":false},"axis":{"values":[-2,0,2],"title":null,"labelOverlap":false,"labelFlush":false,"labelExpr":"datum.value == 0 ? '(y − y_center)/D' : replace(format(datum.value, '.1f'), '−', '-')","labelFontStyle":{"condition":{"test":"datum.value == 0","value":"italic"},"value":"normal"}}},
"y":{"field":"y","type":"quantitative","scale":{"domain":[-19.9,2.1],"nice":false,"zero":false},"axis":{"values":[0,-5,-10,-15],"title":null,"labelOverlap":false,"labelExpr":"datum.value == -5 ? 'Pₖᐞ/Pₖ,hubᴮˢ' : replace(datum.label, '−', '-')","labelFontStyle":{"condition":{"test":"datum.value == -5","value":"italic"},"value":"normal"}}},
"color":{"field":"s","type":"nominal"},"strokeDash":{"field":"s","type":"nominal"}}},
{"transform":[{"filter":"datum.p == 5 && datum.s != 'e' && indexof([-2,-1.5,-1,-0.45,0,0.5,1,1.5,2], datum.x) >= 0"}],"mark":{"type":"point","filled":true,"opacity":1,"size":20,"clip":true},
"encoding":{"x":{"field":"x","type":"quantitative"},"y":{"field":"y","type":"quantitative"},"color":{"field":"s","type":"nominal","legend":null},"shape":{"field":"s","type":"nominal","legend":null}}},
{"data":{"values":[{"t":"Case A: T2 \u00a02D"}]},"mark":{"type":"text","fontSize":13,"color":"black"},"encoding":{"x":{"datum":0},"y":{"datum":-16.3},"text":{"field":"t"}}}
]},
{"width":160.5,"height":148.5,"layer":[
{"transform":[{"filter":"datum.p == 6"}],"mark":{"type":"line","strokeWidth":1.8,"interpolate":"monotone","clip":true},
"encoding":{"x":{"field":"x","type":"quantitative","scale":{"domain":[-2.5,2.5],"nice":false,"zero":false},"axis":{"values":[-2,0,2],"title":null,"labelOverlap":false,"labelFlush":false,"labelExpr":"datum.value == 0 ? '(y − y_center)/D' : replace(format(datum.value, '.1f'), '−', '-')","labelFontStyle":{"condition":{"test":"datum.value == 0","value":"italic"},"value":"normal"}}},
"y":{"field":"y","type":"quantitative","scale":{"domain":[-19.9,2.1],"nice":false,"zero":false},"axis":{"values":[0,-5,-10,-15],"title":null,"labels":false}},
"color":{"field":"s","type":"nominal"},"strokeDash":{"field":"s","type":"nominal"}}},
{"transform":[{"filter":"datum.p == 6 && datum.s != 'e' && indexof([-2,-1.5,-1,-0.45,0,0.5,1,1.5,2], datum.x) >= 0"}],"mark":{"type":"point","filled":true,"opacity":1,"size":20,"clip":true},
"encoding":{"x":{"field":"x","type":"quantitative"},"y":{"field":"y","type":"quantitative"},"color":{"field":"s","type":"nominal","legend":null},"shape":{"field":"s","type":"nominal","legend":null}}},
{"data":{"values":[{"t":"Case A: T2 \u00a04D"}]},"mark":{"type":"text","fontSize":13,"color":"black"},"encoding":{"x":{"datum":0},"y":{"datum":-16.3},"text":{"field":"t"}}}
]},
{"width":160.5,"height":148.5,"layer":[
{"transform":[{"filter":"datum.p == 7"}],"mark":{"type":"line","strokeWidth":1.8,"interpolate":"monotone","clip":true},
"encoding":{"x":{"field":"x","type":"quantitative","scale":{"domain":[-2.5,2.5],"nice":false,"zero":false},"axis":{"values":[-2,0,2],"title":null,"labelOverlap":false,"labelFlush":false,"labelExpr":"datum.value == 0 ? '(y − y_center)/D' : replace(format(datum.value, '.1f'), '−', '-')","labelFontStyle":{"condition":{"test":"datum.value == 0","value":"italic"},"value":"normal"}}},
"y":{"field":"y","type":"quantitative","scale":{"domain":[-19.9,2.1],"nice":false,"zero":false},"axis":{"values":[0,-5,-10,-15],"title":null,"labels":false}},
"color":{"field":"s","type":"nominal"},"strokeDash":{"field":"s","type":"nominal"}}},
{"transform":[{"filter":"datum.p == 7 && datum.s != 'e' && indexof([-2,-1.5,-1,-0.45,0,0.5,1,1.5,2], datum.x) >= 0"}],"mark":{"type":"point","filled":true,"opacity":1,"size":20,"clip":true},
"encoding":{"x":{"field":"x","type":"quantitative"},"y":{"field":"y","type":"quantitative"},"color":{"field":"s","type":"nominal","legend":null},"shape":{"field":"s","type":"nominal","legend":null}}},
{"data":{"values":[{"t":"Case A: T2 \u00a06D"}]},"mark":{"type":"text","fontSize":13,"color":"black"},"encoding":{"x":{"datum":0},"y":{"datum":-16.3},"text":{"field":"t"}}}
]},
{"width":160.5,"height":148.5,"layer":[
{"transform":[{"filter":"datum.p == 8"}],"mark":{"type":"line","strokeWidth":1.8,"interpolate":"monotone","clip":true},
"encoding":{"x":{"field":"x","type":"quantitative","scale":{"domain":[-2.5,2.5],"nice":false,"zero":false},"axis":{"values":[-2,0,2],"title":null,"labelOverlap":false,"labelFlush":false,"labelExpr":"datum.value == 0 ? '(y − y_center)/D' : replace(format(datum.value, '.1f'), '−', '-')","labelFontStyle":{"condition":{"test":"datum.value == 0","value":"italic"},"value":"normal"}}},
"y":{"field":"y","type":"quantitative","scale":{"domain":[-19.9,2.1],"nice":false,"zero":false},"axis":{"values":[0,-5,-10,-15],"title":null,"labels":false}},
"color":{"field":"s","type":"nominal"},"strokeDash":{"field":"s","type":"nominal"}}},
{"transform":[{"filter":"datum.p == 8 && datum.s != 'e' && indexof([-2,-1.5,-1,-0.45,0,0.5,1,1.5,2], datum.x) >= 0"}],"mark":{"type":"point","filled":true,"opacity":1,"size":20,"clip":true},
"encoding":{"x":{"field":"x","type":"quantitative"},"y":{"field":"y","type":"quantitative"},"color":{"field":"s","type":"nominal","legend":null},"shape":{"field":"s","type":"nominal","legend":null}}},
{"data":{"values":[{"t":"Case A: T2 10D"}]},"mark":{"type":"text","fontSize":13,"color":"black"},"encoding":{"x":{"datum":0},"y":{"datum":-16.3},"text":{"field":"t"}}}
]}
],
"config":{
"font":"DejaVu Sans",
"view":{"stroke":"black","strokeWidth":1},
"axis":{"grid":false,"domain":false,"tickColor":"black","tickWidth":1,"tickSize":4.5,"labelColor":"black","labelFontSize":12,"labelPadding":3,"labelFont":"DejaVu Sans"},
"legend":{"orient":"none","legendX":-48,"legendY":-31,"direction":"horizontal","columns":5,"columnPadding":20,"symbolType":"stroke","symbolSize":784,"symbolStrokeWidth":2,"labelFontSize":12.5,"labelOffset":9,"labelColor":"black","labelLimit":0,"labelFont":"DejaVu Sans"}
}
}
